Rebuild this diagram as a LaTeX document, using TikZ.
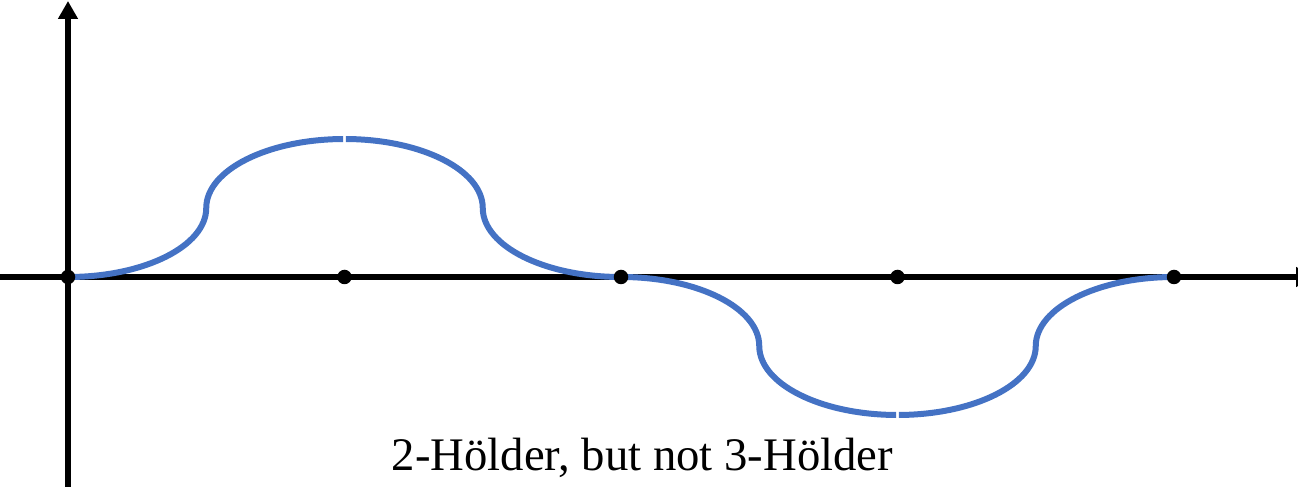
\documentclass[tikz,border=0pt]{standalone}
\usepackage{fontspec}
\setmainfont{Liberation Serif}
\usetikzlibrary{arrows.meta,calc}
\definecolor{curveblue}{HTML}{4472C4}
\tikzset{
  axisline/.style={line width=6pt, -{Triangle[length=18pt,width=19pt]}},
  curveline/.style={curveblue, line width=6pt},
  tickdot/.style={circle, fill=black, inner sep=0pt, minimum size=14.5pt},
  caption/.style={font=\fontsize{46.7}{50}\selectfont, inner sep=0pt, anchor=base},
  hump/.style={x radius=138.25, y radius=69}
}
\begin{document}
\begin{tikzpicture}[x=1pt,y=1pt]
\useasboundingbox (0,0) rectangle (1298,487);
% axes
\coordinate (ybot) at (68,-5);
\coordinate (ytop) at (68,486);
\coordinate (xleft) at (-5,210);
\coordinate (xright) at (1314,210);
\draw[axisline] (ybot) -- (ytop);
\draw[axisline] (xleft) -- (xright);
% curve
\coordinate (c0) at (68,210);
\coordinate (ctop) at ($(344.5,279)+(89.4:138.25 and 69)$);
\coordinate (cbot) at ($(897.5,141)+(270.6:138.25 and 69)$);
\draw[curveline] (c0)
  arc[start angle=-90, end angle=0, hump]
  arc[start angle=180, end angle=90.6, hump];
\draw[curveline] (ctop)
  arc[start angle=89.4, end angle=0, hump]
  arc[start angle=180, end angle=270, hump]
  arc[start angle=90, end angle=0, hump]
  arc[start angle=180, end angle=269.4, hump];
\draw[curveline] (cbot)
  arc[start angle=-89.4, end angle=0, hump]
  arc[start angle=180, end angle=90, hump];
% dots
\node[tickdot] (d0) at (68,210) {};
\node[tickdot] (d1) at (344.5,210) {};
\node[tickdot] (d2) at (621,210) {};
\node[tickdot] (d3) at (897.5,210) {};
\node[tickdot] (d4) at (1174,210) {};
% caption
\node[caption] (cap) at (642.5,16) {2-Hölder, but not 3-Hölder};
\end{tikzpicture}
\end{document}
